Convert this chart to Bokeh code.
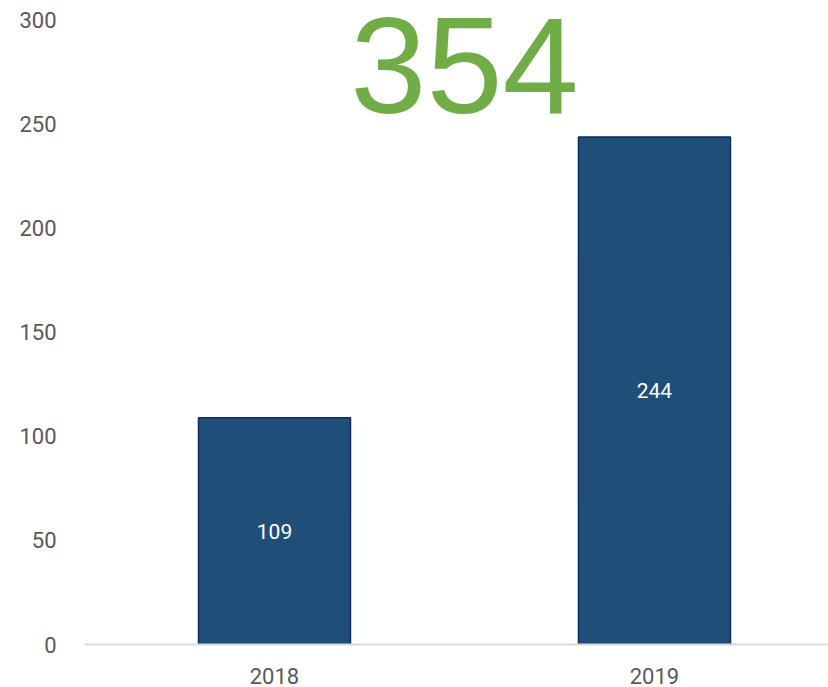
from bokeh.plotting import figure
from bokeh.models import ColumnDataSource, FixedTicker, Range1d
from bokeh.core.properties import value
from bokeh.embed import file_html
from bokeh.resources import INLINE

years = [2018, 2019]
counts = [109, 244]
total_label = "354"
y_ticks = [0, 50, 100, 150, 200, 250, 300]

BAR_FILL = "#1F4E79"
BAR_LINE = "#0B2A66"
GREEN = "#70AD47"
GREY = "#595959"

src = ColumnDataSource(dict(
    x=years,
    top=counts,
    mid=[c / 2 for c in counts],
    lab=[str(c) for c in counts],
))
total_src = ColumnDataSource(dict(x=[sum(years) / len(years)], y=[278.3],
                                  t=[total_label]))

p = figure(width=828, height=687, output_backend="svg", toolbar_location=None,
           x_range=Range1d(2017.5, 2019.458), y_range=Range1d(0, 309.6),
           min_border_left=84, min_border_right=0, min_border_top=0,
           min_border_bottom=43)
p.outline_line_color = None
p.grid.visible = False
p.background_fill_color = "white"

p.vbar(x="x", top="top", bottom=0, width=0.4, source=src,
       fill_color=BAR_FILL, line_color=BAR_LINE, line_width=1.5)
p.text(x="x", y="mid", text="lab", source=src, text_color="white",
       text_font=value("Roboto"), text_font_size="21px",
       text_align="center", text_baseline="middle")
p.text(x="x", y="y", text="t", source=total_src, text_color=GREEN,
       text_font=value("Liberation Sans"), text_font_size="137px",
       text_align="center", text_baseline="alphabetic")

p.yaxis.ticker = FixedTicker(ticks=y_ticks)
p.yaxis.axis_line_color = None
p.yaxis.major_tick_line_color = None
p.yaxis.minor_tick_line_color = None
p.yaxis.major_label_standoff = 22
p.yaxis.major_label_text_font = "Roboto"
p.yaxis.major_label_text_font_size = "22px"
p.yaxis.major_label_text_color = GREY

p.xaxis.ticker = FixedTicker(ticks=years)
p.xaxis.axis_line_color = "#D9D9D9"
p.xaxis.axis_line_width = 2
p.xaxis.major_tick_line_color = None
p.xaxis.minor_tick_line_color = None
p.xaxis.major_label_standoff = 17
p.xaxis.major_label_text_font = "Roboto"
p.xaxis.major_label_text_font_size = "22px"
p.xaxis.major_label_text_color = GREY

open("out.html", "w").write(file_html(p, INLINE))
